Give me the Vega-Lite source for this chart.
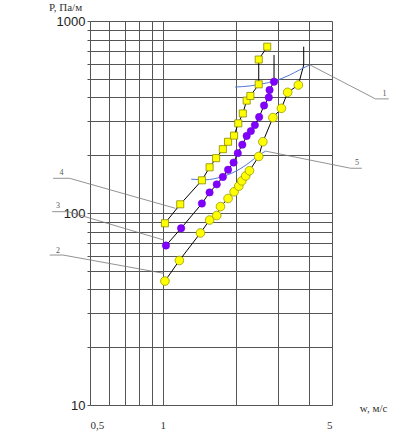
{
  "$schema": "https://vega.github.io/schema/vega-lite/v6.json",
  "width": 242,
  "height": 384,
  "autosize": "none",
  "padding": {"left": 90, "top": 21, "right": 75, "bottom": 34},
  "background": "white",
  "datasets": {
    "curves": [
      {"series": "4", "i": 1, "w": 1.02, "p": 88.4, "pt": true},
      {"series": "4", "i": 2, "w": 1.18, "p": 111, "pt": true},
      {"series": "4", "i": 3, "w": 1.45, "p": 148, "pt": true},
      {"series": "4", "i": 4, "w": 1.56, "p": 173, "pt": true},
      {"series": "4", "i": 5, "w": 1.66, "p": 193, "pt": true},
      {"series": "4", "i": 6, "w": 1.77, "p": 215, "pt": true},
      {"series": "4", "i": 7, "w": 1.86, "p": 235, "pt": true},
      {"series": "4", "i": 8, "w": 1.97, "p": 253, "pt": true},
      {"series": "4", "i": 9, "w": 2.05, "p": 293, "pt": true},
      {"series": "4", "i": 10, "w": 2.14, "p": 330, "pt": true},
      {"series": "4", "i": 11, "w": 2.22, "p": 385, "pt": true},
      {"series": "4", "i": 12, "w": 2.3, "p": 407, "pt": true},
      {"series": "4", "i": 13, "w": 2.49, "p": 468, "pt": true},
      {"series": "4", "i": 14, "w": 2.49, "p": 630, "pt": true},
      {"series": "4", "i": 15, "w": 2.7, "p": 735, "pt": true},
      {"series": "3", "i": 1, "w": 1.03, "p": 67.7, "pt": true},
      {"series": "3", "i": 2, "w": 1.19, "p": 83.3, "pt": true},
      {"series": "3", "i": 3, "w": 1.45, "p": 112, "pt": true},
      {"series": "3", "i": 4, "w": 1.56, "p": 128, "pt": true},
      {"series": "3", "i": 5, "w": 1.67, "p": 141, "pt": true},
      {"series": "3", "i": 6, "w": 1.77, "p": 154, "pt": true},
      {"series": "3", "i": 7, "w": 1.86, "p": 168, "pt": true},
      {"series": "3", "i": 8, "w": 1.96, "p": 183, "pt": true},
      {"series": "3", "i": 9, "w": 2.04, "p": 205, "pt": true},
      {"series": "3", "i": 10, "w": 2.13, "p": 227, "pt": true},
      {"series": "3", "i": 11, "w": 2.22, "p": 252, "pt": true},
      {"series": "3", "i": 12, "w": 2.31, "p": 267, "pt": true},
      {"series": "3", "i": 13, "w": 2.4, "p": 287, "pt": true},
      {"series": "3", "i": 14, "w": 2.5, "p": 316, "pt": true},
      {"series": "3", "i": 15, "w": 2.62, "p": 363, "pt": true},
      {"series": "3", "i": 16, "w": 2.74, "p": 400, "pt": true},
      {"series": "3", "i": 17, "w": 2.76, "p": 437, "pt": true},
      {"series": "3", "i": 18, "w": 2.88, "p": 483, "pt": true},
      {"series": "3", "i": 19, "w": 2.88, "p": 665, "pt": false},
      {"series": "2", "i": 1, "w": 1.02, "p": 44.2, "pt": true},
      {"series": "2", "i": 2, "w": 1.17, "p": 56.6, "pt": true},
      {"series": "2", "i": 3, "w": 1.43, "p": 78.7, "pt": true},
      {"series": "2", "i": 4, "w": 1.56, "p": 91.9, "pt": true},
      {"series": "2", "i": 5, "w": 1.67, "p": 97, "pt": true},
      {"series": "2", "i": 6, "w": 1.73, "p": 108, "pt": true},
      {"series": "2", "i": 7, "w": 1.86, "p": 119, "pt": true},
      {"series": "2", "i": 8, "w": 1.97, "p": 129, "pt": true},
      {"series": "2", "i": 9, "w": 2.06, "p": 138, "pt": true},
      {"series": "2", "i": 10, "w": 2.12, "p": 147, "pt": true},
      {"series": "2", "i": 11, "w": 2.2, "p": 156, "pt": true},
      {"series": "2", "i": 12, "w": 2.28, "p": 166, "pt": true},
      {"series": "2", "i": 13, "w": 2.49, "p": 197, "pt": true},
      {"series": "2", "i": 14, "w": 2.59, "p": 235, "pt": true},
      {"series": "2", "i": 15, "w": 2.85, "p": 314, "pt": true},
      {"series": "2", "i": 16, "w": 3.09, "p": 351, "pt": true},
      {"series": "2", "i": 17, "w": 3.28, "p": 425, "pt": true},
      {"series": "2", "i": 18, "w": 3.63, "p": 464, "pt": true},
      {"series": "2", "i": 19, "w": 3.82, "p": 590, "pt": false},
      {"series": "2", "i": 20, "w": 3.82, "p": 735, "pt": false}
    ],
    "blue": [
      {"curve": "1", "i": 1, "w": 1.99, "p": 453},
      {"curve": "1", "i": 2, "w": 2.29, "p": 459},
      {"curve": "1", "i": 3, "w": 2.56, "p": 470},
      {"curve": "1", "i": 4, "w": 2.9, "p": 487},
      {"curve": "1", "i": 5, "w": 3.34, "p": 523},
      {"curve": "1", "i": 6, "w": 3.67, "p": 556},
      {"curve": "1", "i": 7, "w": 4.03, "p": 590},
      {"curve": "5", "i": 1, "w": 1.31, "p": 150},
      {"curve": "5", "i": 2, "w": 1.5, "p": 149},
      {"curve": "5", "i": 3, "w": 1.74, "p": 154},
      {"curve": "5", "i": 4, "w": 2.02, "p": 166},
      {"curve": "5", "i": 5, "w": 2.29, "p": 184},
      {"curve": "5", "i": 6, "w": 2.49, "p": 200},
      {"curve": "5", "i": 7, "w": 2.66, "p": 210}
    ],
    "leaders": [
      {"label": "4", "i": 1, "w": 0.352, "p": 151.6},
      {"label": "4", "i": 2, "w": 0.412, "p": 151.6},
      {"label": "4", "i": 3, "w": 1.127, "p": 105.8},
      {"label": "3", "i": 1, "w": 0.349, "p": 101.6},
      {"label": "3", "i": 2, "w": 0.406, "p": 101.6},
      {"label": "3", "i": 3, "w": 1.009, "p": 72.3},
      {"label": "2", "i": 1, "w": 0.341, "p": 60.4},
      {"label": "2", "i": 2, "w": 0.387, "p": 60.4},
      {"label": "2", "i": 3, "w": 1.009, "p": 48.5},
      {"label": "1", "i": 1, "w": 4.06, "p": 590},
      {"label": "1", "i": 2, "w": 7.56, "p": 393},
      {"label": "1", "i": 3, "w": 8.58, "p": 393},
      {"label": "5", "i": 1, "w": 2.66, "p": 210},
      {"label": "5", "i": 2, "w": 5.97, "p": 171},
      {"label": "5", "i": 3, "w": 6.64, "p": 171}
    ],
    "labels": [
      {"label": "4", "w": 0.381, "p": 161.6},
      {"label": "3", "w": 0.369, "p": 108.8},
      {"label": "2", "w": 0.369, "p": 63.4},
      {"label": "1", "w": 8.23, "p": 417},
      {"label": "5", "w": 6.34, "p": 182}
    ]
  },
  "encoding": {
    "x": {
      "field": "w",
      "type": "quantitative",
      "scale": {"type": "log", "domain": [0.5, 5], "nice": false},
      "axis": {
        "values": [0.5, 0.6, 0.7, 0.8, 0.9, 1, 2, 3, 4, 5],
        "labelExpr": "datum.value == 0.5 ? '0,5' : (datum.value == 1 || datum.value == 5) ? format(datum.value, 'd') : ''",
        "labelFont": "Liberation Serif",
        "labelFontSize": 11,
        "labelColor": "#333",
        "labelPadding": 14,
        "ticks": false,
        "domain": false,
        "grid": true,
        "gridColor": "#555",
        "gridOpacity": 1,
        "gridWidth": 1,
        "title": "w, м/с",
        "titleFont": "Liberation Serif",
        "titleFontSize": 11,
        "titleFontWeight": "normal",
        "titleColor": "#333",
        "titleX": 283,
        "titleY": 3,
        "titleAlign": "center",
        "titleBaseline": "middle"
      }
    },
    "y": {
      "field": "p",
      "type": "quantitative",
      "scale": {"type": "log", "domain": [10, 1000], "nice": false},
      "axis": {
        "values": [10, 20, 30, 40, 50, 60, 70, 80, 90, 100, 200, 300, 400, 500, 600, 700, 800, 900, 1000],
        "labelExpr": "(datum.value == 10 || datum.value == 100 || datum.value == 1000) ? format(datum.value, 'd') : ''",
        "labelFont": "Liberation Sans",
        "labelFontSize": 13,
        "labelColor": "#222",
        "labelPadding": 2,
        "tickSize": 3,
        "tickColor": "#555",
        "domain": false,
        "grid": true,
        "gridColor": "#555",
        "gridOpacity": 1,
        "gridWidth": 1,
        "title": "P, Па/м",
        "titleFont": "Liberation Serif",
        "titleFontSize": 11,
        "titleFontWeight": "normal",
        "titleColor": "#333",
        "titleAngle": 0,
        "titleX": -25,
        "titleY": -14,
        "titleAlign": "center",
        "titleBaseline": "middle"
      }
    }
  },
  "layer": [
    {
      "data": {"name": "leaders"},
      "mark": {"type": "line", "color": "#777", "strokeWidth": 0.8},
      "encoding": {"detail": {"field": "label"}, "order": {"field": "i"}}
    },
    {
      "data": {"name": "labels"},
      "mark": {"type": "text", "font": "Liberation Serif", "fontSize": 8, "color": "#555"},
      "encoding": {"text": {"field": "label"}}
    },
    {
      "data": {"name": "curves"},
      "mark": {"type": "line", "color": "black", "strokeWidth": 1},
      "encoding": {"detail": {"field": "series"}, "order": {"field": "i"}}
    },
    {
      "data": {"name": "blue"},
      "mark": {"type": "line", "color": "#5078d8", "strokeWidth": 1, "interpolate": "monotone"},
      "encoding": {"detail": {"field": "curve"}, "order": {"field": "i"}}
    },
    {
      "data": {"name": "curves"},
      "transform": [{"filter": "datum.pt && datum.series == '4'"}],
      "mark": {"type": "point", "shape": "square", "size": 50, "filled": true, "fill": "#ffff00", "stroke": "#8a8a00", "strokeWidth": 0.8, "opacity": 1}
    },
    {
      "data": {"name": "curves"},
      "transform": [{"filter": "datum.pt && datum.series == '3'"}],
      "mark": {"type": "point", "shape": "circle", "size": 55, "filled": true, "fill": "#8000ff", "stroke": "#6a00d0", "strokeWidth": 0.5, "opacity": 1}
    },
    {
      "data": {"name": "curves"},
      "transform": [{"filter": "datum.pt && datum.series == '2'"}],
      "mark": {"type": "point", "shape": "circle", "size": 75, "filled": true, "fill": "#ffff00", "stroke": "#9a9a00", "strokeWidth": 0.8, "opacity": 1}
    }
  ]
}
